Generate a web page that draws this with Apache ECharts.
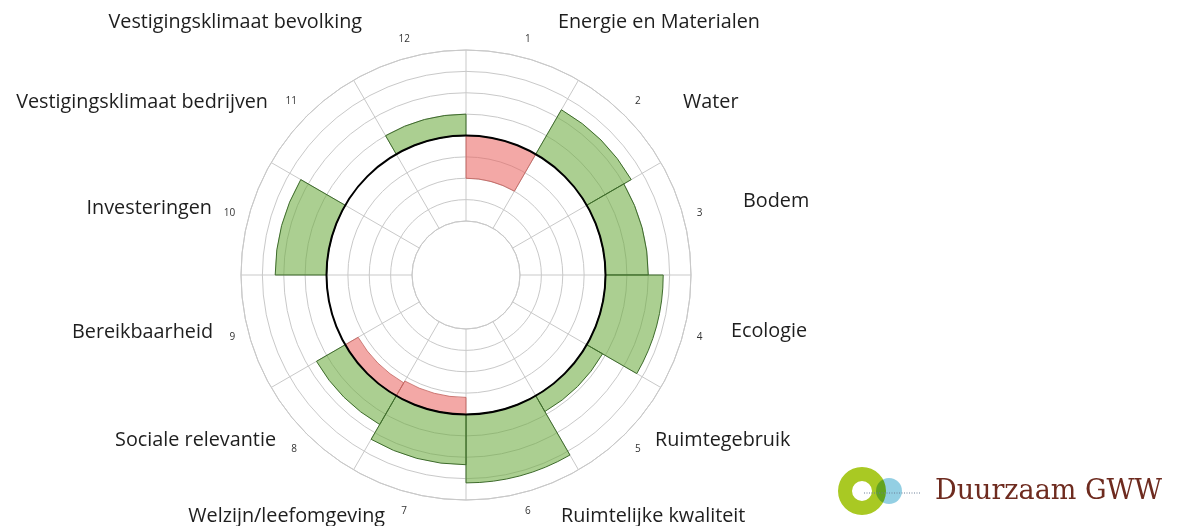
<!DOCTYPE html>
<html>
<head>
<meta charset="utf-8">
<script src="https://cdn.jsdelivr.net/npm/echarts@6/dist/echarts.min.js"></script>
<style>
html,body{margin:0;padding:0;background:#fff;}
#chart{width:1183px;height:526px;}
</style>
</head>
<body>
<div id="chart"></div>
<script>
// ---- data ----
const categories = ['Energie en Materialen','Water','Bodem','Ecologie','Ruimtegebruik','Ruimtelijke kwaliteit','Welzijn/leefomgeving','Sociale relevantie','Bereikbaarheid','Investeringen','Vestigingsklimaat bedrijven','Vestigingsklimaat bevolking'];
const sectorNumbers = ['1','2','3','4','5','6','7','8','9','10','11','12'];
const target = 4;
const scoreAbove = [null, 6.4, 6.0, 6.7, 4.85, 7.2, 6.35, 5.55, null, 6.4, null, 5.0];
const scoreBelow = [2.0, null, null, null, null, null, 3.2, 3.3, null, null, null, null];
const radiusMin = 0, radiusMax = 8, radiusStep = 1;

// ---- label placement (layout only) ----
const labelPos = [
  [558, 22, 'left'], [683, 102, 'left'], [743, 201, 'left'], [731, 331, 'left'],
  [655, 440, 'left'], [561, 516, 'left'], [385, 516, 'right'], [276, 440, 'right'],
  [213, 332, 'right'], [212, 208, 'right'], [268, 102, 'right'], [362, 22, 'right']
];

const greenBase = scoreAbove.map(v => v == null ? null : target);
const greenDiff = scoreAbove.map(v => v == null ? null : +(v - target).toFixed(3));
const redBase = scoreBelow.map(v => v == null ? null : v);
const redDiff = scoreBelow.map(v => v == null ? null : +(target - v).toFixed(3));

const chart = echarts.init(document.getElementById('chart'), null, {renderer: 'canvas'});

const gridGray = '#c9c9c9';
const textGraphics = categories.map((c, i) => ({
  type: 'text',
  x: labelPos[i][0], y: labelPos[i][1],
  style: {
    text: c, fill: '#1e1e1e', font: '19.8px "Open Sans", "Noto Sans", sans-serif',
    textAlign: labelPos[i][2], textVerticalAlign: 'middle'
  }
}));

const logo = [
  {type: 'ring', shape: {cx: 862, cy: 491, r: 24, r0: 10}, style: {fill: '#a9c923'}},
  {type: 'circle', shape: {cx: 889, cy: 491, r: 13}, style: {fill: '#93cfe3', blend: 'multiply'}},
  {type: 'line', shape: {x1: 864, y1: 493, x2: 921, y2: 493}, style: {stroke: '#6b7f96', lineWidth: 1, lineDash: [1, 1.5]}},
  {type: 'text', x: 935, y: 492, style: {text: 'Duurzaam GWW', fill: '#6e2b1f', font: '27px "DejaVu Serif", serif', textAlign: 'left', textVerticalAlign: 'middle'}}
];

const barCommon = {
  type: 'bar', coordinateSystem: 'polar', barCategoryGap: '0%', barGap: '-100%', silent: true
};

chart.setOption({
  backgroundColor: '#ffffff',
  animation: false,
  polar: {center: [466, 275], radius: [54, 225]},
  angleAxis: {
    type: 'category', data: sectorNumbers, startAngle: 90, clockwise: true,
    boundaryGap: true,
    axisLine: {show: true, lineStyle: {color: gridGray, width: 1}},
    axisTick: {show: false},
    axisLabel: {show: true, margin: 14, fontSize: 10, color: '#333', fontFamily: 'Open Sans'},
    splitLine: {show: true, lineStyle: {color: gridGray, width: 1}},
    z: 1
  },
  radiusAxis: {
    type: 'value', min: radiusMin, max: radiusMax, interval: radiusStep,
    axisLine: {show: false}, axisTick: {show: false}, axisLabel: {show: false},
    splitLine: {show: true, lineStyle: {color: gridGray, width: 1}}
  },
  series: [
    Object.assign({}, barCommon, {name: 'gbase', stack: 'g', data: greenBase, itemStyle: {color: 'rgba(0,0,0,0)'}}),
    Object.assign({}, barCommon, {name: 'boven', stack: 'g', data: greenDiff,
      itemStyle: {color: 'rgba(110,172,66,0.58)', borderColor: '#3e6b2c', borderWidth: 1}}),
    Object.assign({}, barCommon, {name: 'rbase', stack: 'r', data: redBase, itemStyle: {color: 'rgba(0,0,0,0)'}}),
    Object.assign({}, barCommon, {name: 'onder', stack: 'r', data: redDiff,
      itemStyle: {color: 'rgba(234,96,92,0.55)', borderColor: '#c0605a', borderWidth: 0.8}}),
    {
      type: 'custom', coordinateSystem: 'polar', silent: true, z: 10,
      data: [[target, 0]],
      renderItem: function (params, api) {
        const cs = params.coordSys;
        const p = api.coord([api.value(0), api.value(1)]);
        const r = Math.hypot(p[0] - cs.cx, p[1] - cs.cy);
        return {type: 'circle', shape: {cx: cs.cx, cy: cs.cy, r: r}, style: {fill: 'none', stroke: '#000', lineWidth: 2}};
      }
    }
  ],
  graphic: textGraphics.concat(logo)
});
</script>
</body>
</html>
